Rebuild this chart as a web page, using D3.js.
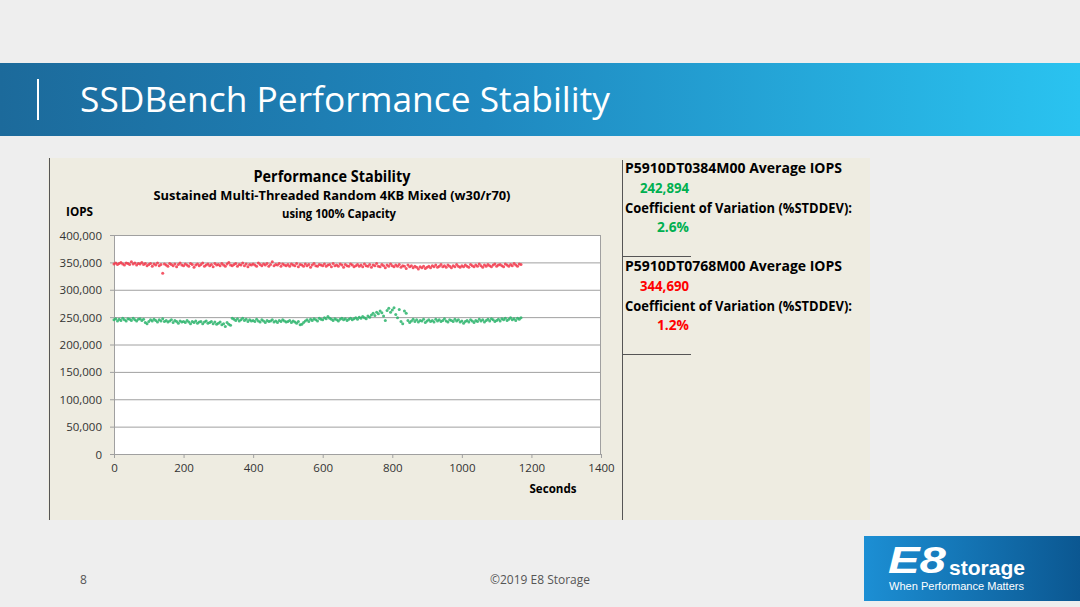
<!DOCTYPE html>
<html><head><meta charset="utf-8">
<script src="https://cdn.jsdelivr.net/npm/d3@7"></script>
<style>html,body{margin:0;padding:0;background:#eeeeee;}svg{display:block;}</style>
</head><body>
<script>
// ---- DATA ----
const seriesNames = ["P5910DT0384M00", "P5910DT0768M00"];
const sampleStep = 5; // seconds between plotted samples
// P5910DT0768M00 (red) IOPS in thousands, one sample every 5 s from 0 to 1170 s
const redIOPSk = [
347,349,346,348,350,347,345,349,348,346,351,347,349,345,348,347,350,346,348,344,
346,348,343,347,345,349,344,346,330,347,345,343,348,346,344,347,342,346,349,345,
344,347,345,343,348,346,341,345,347,344,346,349,343,345,347,344,346,342,348,345,
346,344,348,345,343,347,350,345,344,346,348,343,346,345,349,344,347,342,346,345,
347,345,343,349,346,344,347,345,348,343,346,351,344,346,345,348,343,347,345,344,
346,343,347,345,344,348,342,346,345,343,347,344,346,341,345,348,344,343,346,345,
344,347,343,345,346,342,348,344,345,343,347,345,341,346,344,343,347,345,342,344,
346,343,345,342,347,344,343,346,341,345,344,348,343,342,346,344,340,345,343,347,
344,342,345,343,346,341,344,343,339,345,342,344,340,343,341,338,342,340,343,339,
341,343,340,344,342,345,341,343,346,342,344,341,345,343,340,344,342,346,343,341,
344,342,345,343,341,346,344,342,345,343,347,344,341,345,343,346,344,342,345,347,
343,345,346,344,342,347,345,343,346,344,348,345,343,347,346];
// P5910DT0384M00 (green) IOPS in thousands
const greenIOPSk = [
245,247,243,246,244,248,245,243,247,246,244,248,245,243,246,247,244,246,240,238,
242,245,243,246,244,241,245,243,247,242,244,241,243,245,240,244,242,239,243,241,
242,240,244,241,238,242,240,243,239,241,242,238,241,243,239,240,242,238,241,237,
239,241,236,238,233,240,237,235,248,246,244,247,243,245,248,244,246,242,245,243,
244,242,246,243,241,245,243,240,244,242,243,245,241,243,240,244,242,245,243,241,
242,244,240,243,241,239,242,236,237,240,243,245,242,246,244,247,245,243,248,246,
245,249,247,251,248,246,244,247,245,243,246,248,245,247,244,246,248,245,247,249,
246,250,248,251,249,247,252,250,254,257,253,259,256,261,258,252,244,262,266,259,
263,267,255,249,264,242,238,261,257,244,240,243,246,242,245,241,244,243,246,240,
243,245,242,244,241,246,243,245,242,244,247,243,241,245,244,242,246,243,245,241,
243,239,242,244,241,245,243,240,244,242,246,243,245,241,244,246,243,247,245,242,
244,246,243,247,245,248,244,246,249,245,247,244,248,246,249];
const yTicks = [0,50000,100000,150000,200000,250000,300000,350000,400000];
const xTicks = [0,200,400,600,800,1000,1200,1400];
const avgIOPS = ["242,894", "344,690"];
const covValues = ["2.6%", "1.2%"];

// ---- DRAW ----
const W = 1080, H = 607;
const svg = d3.select("body").append("svg").attr("width", W).attr("height", H);
const defs = svg.append("defs");
const FONT = "'Open Sans', 'Noto Sans', sans-serif";

svg.append("rect").attr("width", W).attr("height", H).attr("fill", "#eeeeee");

// header band
const hg = defs.append("linearGradient").attr("id", "hdr");
hg.append("stop").attr("offset", "0%").attr("stop-color", "#1c6a9b");
hg.append("stop").attr("offset", "45%").attr("stop-color", "#1f88bf");
hg.append("stop").attr("offset", "100%").attr("stop-color", "#2ac3f0");
svg.append("rect").attr("x", 0).attr("y", 63).attr("width", W).attr("height", 73).attr("fill", "url(#hdr)");
svg.append("rect").attr("x", 37).attr("y", 79).attr("width", 2).attr("height", 41).attr("fill", "#ffffff");
function txt(x, y, s, size, opts = {}) {
  const t = svg.append("text").attr("x", x).attr("y", y).text(s)
    .attr("font-family", FONT).attr("font-size", size)
    .attr("fill", opts.fill || "#000").attr("font-weight", opts.bold ? "bold" : "normal")
    .attr("text-anchor", opts.anchor || "start");
  if (opts.len) t.attr("textLength", opts.len).attr("lengthAdjust", "spacingAndGlyphs");
  return t;
}
txt(80, 112, "SSDBench Performance Stability", 35, {fill: "#ffffff", len: 530});

// chart panel
svg.append("rect").attr("x", 48).attr("y", 158).attr("width", 822).attr("height", 362).attr("fill", "#eeece1");
svg.append("line").attr("x1", 49.5).attr("x2", 49.5).attr("y1", 158).attr("y2", 520).attr("stroke", "#555").attr("stroke-width", 1);
svg.append("line").attr("x1", 622.5).attr("x2", 622.5).attr("y1", 160).attr("y2", 520).attr("stroke", "#555").attr("stroke-width", 1);

const x = d3.scaleLinear().domain([0, 1400]).range([114, 601]);
const y = d3.scaleLinear().domain([0, 400000]).range([454, 235]);

svg.append("rect").attr("x", x(0)).attr("y", y(400000)).attr("width", x(1400) - x(0)).attr("height", y(0) - y(400000)).attr("fill", "#ffffff");

// gridlines
const yAxis = d3.axisLeft(y).tickValues(yTicks).tickSize(-(x(1400) - x(0))).tickFormat(d3.format(","));
const ya = svg.append("g").attr("transform", `translate(${x(0)},0)`).call(yAxis);
ya.select(".domain").remove();
ya.selectAll(".tick line").attr("stroke", "#a0a0a0");
ya.selectAll(".tick text").attr("x", -12).attr("dy", "0.35em").attr("font-family", FONT).attr("font-size", 11.5).attr("fill", "#333");
svg.append("g").selectAll("line").data(yTicks).join("line")
  .attr("x1", x(0) - 4).attr("x2", x(0)).attr("y1", d => y(d) + 0.5).attr("y2", d => y(d) + 0.5).attr("stroke", "#a0a0a0");
svg.append("line").attr("x1", x(0) + 0.5).attr("x2", x(0) + 0.5).attr("y1", y(400000)).attr("y2", y(0)).attr("stroke", "#a0a0a0");
svg.append("line").attr("x1", x(1400) - 0.5).attr("x2", x(1400) - 0.5).attr("y1", y(400000)).attr("y2", y(0)).attr("stroke", "#a0a0a0");

const xAxis = d3.axisBottom(x).tickValues(xTicks).tickSize(4).tickFormat(d3.format("d"));
const xa = svg.append("g").attr("transform", `translate(0,${y(0)})`).call(xAxis);
xa.select(".domain").attr("stroke", "#a0a0a0");
xa.selectAll(".tick line").attr("stroke", "#a0a0a0");
xa.selectAll(".tick text").attr("y", 10).attr("font-family", FONT).attr("font-size", 11.5).attr("fill", "#333");

// points
function dots(vals, color) {
  svg.append("g").selectAll("circle").data(vals).join("circle")
    .attr("cx", (d, i) => x(i * sampleStep))
    .attr("cy", d => y(d * 1000))
    .attr("r", 1.5).attr("fill", color).attr("opacity", 0.85);
}
dots(redIOPSk, "#f23a4c");
dots(greenIOPSk, "#2bb46c");

// chart titles
txt(332, 182, "Performance Stability", 16, {bold: true, anchor: "middle", len: 157});
txt(332, 200, "Sustained Multi-Threaded Random 4KB Mixed (w30/r70)", 13, {bold: true, anchor: "middle", len: 357});
txt(339, 218, "using 100% Capacity", 13, {bold: true, anchor: "middle", len: 114});
txt(66, 216, "IOPS", 12.5, {bold: true, len: 27});
txt(553, 493, "Seconds", 12.5, {bold: true, anchor: "middle", len: 47});

// right panel
const colors = ["#00b050", "#ff0000"];
[0, 1].forEach(i => {
  const oy = i * 98;
  txt(625, 173 + oy, seriesNames[i] + " Average IOPS", 13.5, {bold: true, len: 217});
  txt(640, 193 + oy, avgIOPS[i], 13.5, {bold: true, fill: colors[i], len: 49});
  txt(625, 213 + oy, "Coefficient of Variation (%STDDEV):", 13.5, {bold: true, len: 227});
  txt(657, 232 + oy, covValues[i], 13.5, {bold: true, fill: colors[i], len: 32});
  svg.append("line").attr("x1", 623).attr("x2", 691).attr("y1", 256.5 + oy).attr("y2", 256.5 + oy).attr("stroke", "#555");
});

// footer
txt(80, 584, "8", 12, {fill: "#555"});
txt(490, 584, "©2019 E8 Storage", 12, {fill: "#555", len: 100});

// logo
const lg = defs.append("linearGradient").attr("id", "logo");
lg.append("stop").attr("offset", "0%").attr("stop-color", "#1c8fd4");
lg.append("stop").attr("offset", "100%").attr("stop-color", "#0b5791");
svg.append("rect").attr("x", 864).attr("y", 536).attr("width", 216).attr("height", 65).attr("fill", "url(#logo)");
svg.append("text").attr("x", 888).attr("y", 573).text("E8")
  .attr("font-family", "'Liberation Sans', Arial, sans-serif").attr("font-weight", "bold").attr("font-style", "italic")
  .attr("font-size", 36).attr("fill", "#fff").attr("textLength", 58).attr("lengthAdjust", "spacingAndGlyphs");
svg.append("text").attr("x", 949).attr("y", 575).text("storage")
  .attr("font-family", "'Liberation Sans', Arial, sans-serif").attr("font-weight", "bold")
  .attr("font-size", 21).attr("fill", "#fff").attr("textLength", 76).attr("lengthAdjust", "spacingAndGlyphs");
svg.append("text").attr("x", 889).attr("y", 590).text("When Performance Matters")
  .attr("font-family", "'Liberation Sans', Arial, sans-serif")
  .attr("font-size", 11).attr("fill", "#fff").attr("textLength", 135).attr("lengthAdjust", "spacingAndGlyphs");
</script>
</body></html>
